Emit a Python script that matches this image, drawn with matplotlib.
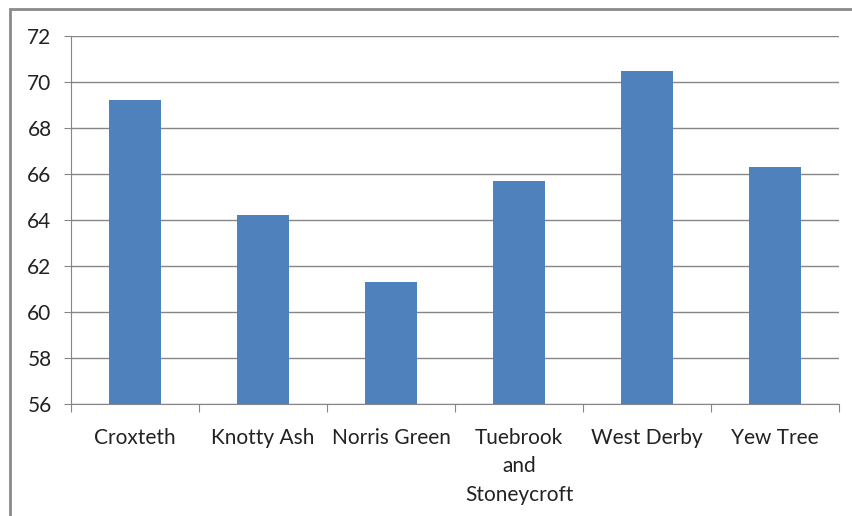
import matplotlib
matplotlib.use("Agg")
import matplotlib.pyplot as plt
import matplotlib.patches as mpatches
import numpy as np

# Dados do gráfico
bairros = ["Croxteth", "Knotty Ash", "Norris Green", "Tuebrook\nand\nStoneycroft", "West Derby", "Yew Tree"]
valores = [69.2, 64.2, 61.3, 65.7, 70.5, 66.3]
y_ticks = [56, 58, 60, 62, 64, 66, 68, 70, 72]

plt.rcParams["font.family"] = ["Lato", "DejaVu Sans"]

cor_barra = "#4F81BD"
cor_grade = "#868686"
cor_texto = "#222222"

fig = plt.figure(figsize=(8.52, 5.16), dpi=100)
ax = fig.add_axes([71 / 852, 1 - 404 / 516, (839 - 71) / 852, (404 - 36) / 516])

x = np.arange(len(bairros))
ax.bar(x, valores, width=0.4, color=cor_barra, zorder=3)

ax.set_ylim(56, 72)
ax.set_xlim(-0.5, len(bairros) - 0.5)
ax.set_yticks(y_ticks)
ax.set_yticklabels([str(v) for v in y_ticks], fontsize=15, color=cor_texto)
ax.yaxis.grid(True, color=cor_grade, linewidth=1.0, zorder=0)

# ticks do eixo x nas fronteiras entre categorias
ax.set_xticks(np.arange(-0.5, len(bairros), 1.0))
ax.set_xticklabels([])
ax.set_xticks(x, minor=True)
ax.set_xticklabels(bairros, minor=True, fontsize=15, color=cor_texto, linespacing=1.55, va="top")
ax.tick_params(axis="x", which="minor", length=0, pad=17)
ax.tick_params(axis="x", which="major", length=6, color=cor_grade, direction="out")
ax.tick_params(axis="y", length=5, color=cor_grade, pad=9)

for lado in ["top", "right"]:
    ax.spines[lado].set_visible(False)
ax.spines["left"].set_color(cor_grade)
ax.spines["bottom"].set_color(cor_grade)

# moldura do gráfico (cortada à direita e embaixo)
moldura = mpatches.Rectangle((10 / 852, -0.1), 1.2, 1 - 9 / 516 + 0.1, transform=fig.transFigure,
                             fill=False, edgecolor="#8A8A8A", linewidth=2)
fig.patches.append(moldura)

fig.savefig("out.png", dpi=100)
